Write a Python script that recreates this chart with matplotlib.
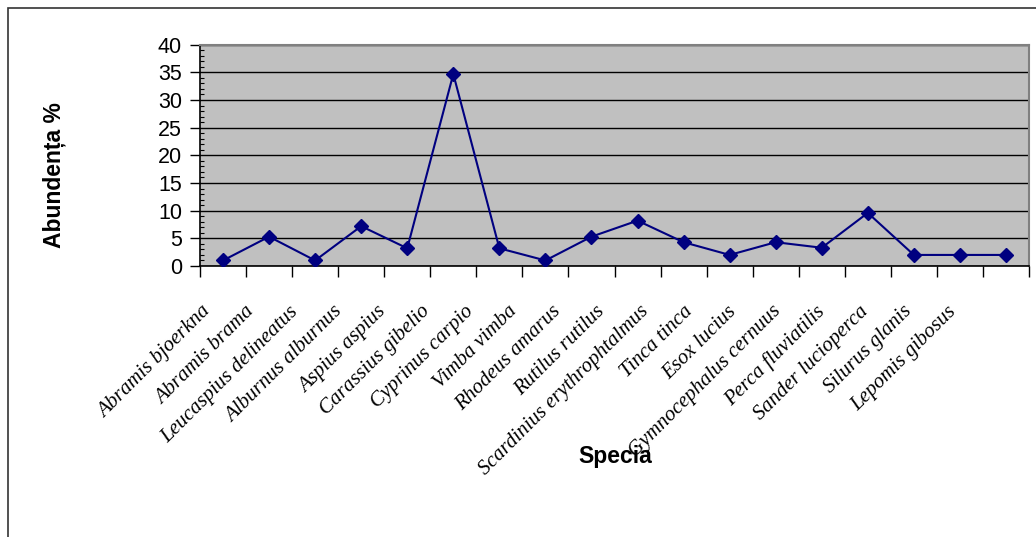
import matplotlib
matplotlib.use("Agg")
import matplotlib.pyplot as plt
from matplotlib.patches import Rectangle
from matplotlib.ticker import MultipleLocator
from matplotlib.transforms import ScaledTranslation

# Abundenta speciilor de pesti (%)
specii = [
    "Abramis bjoerkna", "Abramis brama", "Leucaspius delineatus",
    "Alburnus alburnus", "Aspius aspius", "Carassius gibelio",
    "Cyprinus carpio", "Vimba vimba", "Rhodeus amarus", "Rutilus rutilus",
    "Scardinius erythrophtalmus", "Tinca tinca", "Esox lucius",
    "Gymnocephalus cernuus", "Perca fluviatilis", "Sander lucioperca",
    "Silurus glanis", "Lepomis gibosus",
]
abundenta = [1.0, 5.3, 1.0, 7.2, 3.2, 34.7, 3.2, 1.0, 5.3, 8.2,
             4.3, 2.0, 4.3, 3.3, 9.6, 2.0, 2.0, 2.0]

W, H = 1036, 537
fig = plt.figure(figsize=(W / 100, H / 100), dpi=100)
fig.patch.set_facecolor("white")

# chenarul exterior al graficului
fig.patches.append(Rectangle((8 / W, -0.1), 1.2, 1 - 8 / H + 0.1,
                             transform=fig.transFigure, fill=False,
                             edgecolor="#333333", linewidth=1.2))

ax = fig.add_axes([200 / W, 1 - 266 / H, (1029 - 200) / W, (266 - 44.7) / H])
ax.set_facecolor("#C0C0C0")

x = list(range(len(specii)))
ax.plot(x, abundenta, color="#000080", linewidth=1.5, marker="D",
        markersize=7.5, markerfacecolor="#000080", markeredgecolor="#000080",
        zorder=3)

ax.set_xlim(-0.5, len(specii) - 0.5)
ax.set_ylim(0, 40)
ax.yaxis.set_major_locator(MultipleLocator(5))
ax.yaxis.set_minor_locator(MultipleLocator(1))
ax.grid(axis="y", which="major", color="black", linewidth=1.0, zorder=1)
ax.set_axisbelow(True)

for s in ("top", "right"):
    ax.spines[s].set_color("#808080")
    ax.spines[s].set_linewidth(1.5)
for s in ("left", "bottom"):
    ax.spines[s].set_color("black")
    ax.spines[s].set_linewidth(1.2)

ax.tick_params(axis="y", which="major", direction="out", length=7, width=1,
               labelsize=15.5, pad=6)
ax.tick_params(axis="y", which="minor", direction="in", length=3, width=0.8)
for t in ax.get_yticklabels():
    t.set_fontfamily("Liberation Sans")

# diviziunile axei x intre categorii, etichetele in centrul lor
ax.set_xticks([i - 0.5 for i in range(len(specii) + 1)])
ax.set_xticklabels([])
ax.set_xticks(x, minor=True)
labels = ax.set_xticklabels(specii, minor=True, rotation=45, ha="right",
                            va="top", rotation_mode="anchor", fontsize=15,
                            fontstyle="italic", fontfamily="Liberation Serif")
ax.tick_params(axis="x", which="major", direction="out", length=8, width=1)
ax.tick_params(axis="x", which="minor", length=0, pad=26)

# etichetele sunt putin mai dese decat categoriile
for i, lab in enumerate(labels):
    dx = -(22 + 2.2 * i) / 100
    lab.set_transform(lab.get_transform() +
                      ScaledTranslation(dx, 0, fig.dpi_scale_trans))

fig.text(54 / W, 1 - 175 / H, "Abundența %", rotation=90, ha="center",
         va="center", fontsize=16.5, fontweight="bold",
         fontfamily="Liberation Sans")
fig.text(615 / W, 1 - 456 / H, "Specia", ha="center", va="center",
         fontsize=16.5, fontweight="bold", fontfamily="Liberation Sans")

fig.savefig("out.png", dpi=100)
